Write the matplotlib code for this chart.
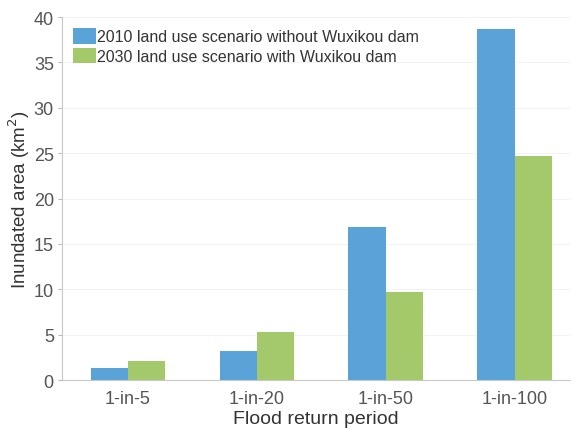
import matplotlib.pyplot as plt
import numpy as np

plt.rcParams['font.family'] = ['Liberation Sans', 'DejaVu Sans']

# 洪水重现期
periods = ['1-in-5', '1-in-20', '1-in-50', '1-in-100']
# 淹没面积 (km2)
area_2010 = [1.3, 3.2, 16.9, 38.7]
area_2030 = [2.1, 5.3, 9.7, 24.7]
labels = ['2010 land use scenario without Wuxikou dam',
          '2030 land use scenario with Wuxikou dam']

fig = plt.figure(figsize=(5.76, 4.31), dpi=100)
ax = fig.add_axes([0.108, 0.116, 0.882, 0.842])

x = np.arange(len(periods))
w = 0.29
ax.bar(x - w / 2, area_2010, w, color='#5aa3d8', label=labels[0])
ax.bar(x + w / 2, area_2030, w, color='#a3c96b', label=labels[1])

ax.set_xlim(-0.51, 3.43)
ax.set_ylim(0, 40)
ax.set_yticks(np.arange(0, 41, 5))
ax.set_xticks(x)
ax.set_xticklabels(periods)
ax.yaxis.grid(True, color='#f3f3f3', lw=0.8)
ax.set_axisbelow(True)

for s in ['top', 'right']:
    ax.spines[s].set_visible(False)
for s in ['left', 'bottom']:
    ax.spines[s].set_color('#c8c8c8')
ax.tick_params(axis='y', colors='#bbbbbb', labelcolor='#555555', labelsize=13, length=3, pad=3)
ax.tick_params(axis='x', length=0, labelcolor='#555555', labelsize=13, pad=7)

ax.set_xlabel('Flood return period', fontsize=14, color='#333333', labelpad=2)
ax.set_ylabel('Inundated area (km$^2$)', fontsize=13.5, color='#333333', labelpad=1)

ax.legend(loc='upper left', bbox_to_anchor=(0.0, 1.0), frameon=False, fontsize=11.5,
          handlelength=1.4, handleheight=1.1, handletextpad=0.05, borderpad=0.2,
          labelspacing=0.22, labelcolor='#333333')

plt.savefig('out.png', dpi=100)
